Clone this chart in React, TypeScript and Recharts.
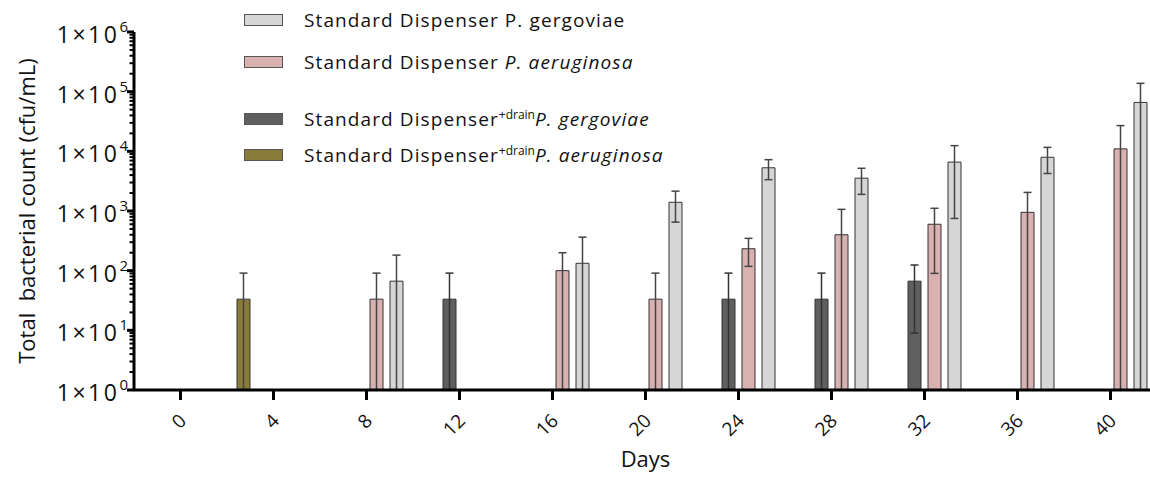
import React from 'react';
import { BarChart, Bar, XAxis, YAxis, ErrorBar, Legend } from 'recharts';

// Days of sampling (x categories)
const days = ['0', '4', '8', '12', '16', '20', '24', '28', '32', '36', '40'];

// Mean total bacterial count (cfu/mL); null = no growth / not shown
const drainAeruginosa = [null, 33.3, null, null, null, null, null, null, null, null, null];
const drainAeruginosaSD = [null, 57.7, null, null, null, null, null, null, null, null, null];

const drainGergoviae = [null, null, null, 33.3, null, null, 33.3, 33.3, 66.7, null, null];
const drainGergoviaeSD = [null, null, null, 57.7, null, null, 57.7, 57.7, 57.7, null, null];

const stdAeruginosa = [null, null, 33.3, null, 100, 33.3, 233, 400, 600, 950, 11000];
const stdAeruginosaSD = [null, null, 57.7, null, 100, 57.7, 115, 666, 510, 1100, 16000];

const stdGergoviae = [null, null, 66.7, null, 133, 1400, 5300, 3550, 6600, 7950, 66000];
const stdGergoviaeSD = [null, null, 115.5, null, 231, 750, 1950, 1650, 5850, 3700, 72000];

// Y axis ticks (log scale)
const yMajorTicks = [1, 10, 100, 1000, 10000, 100000, 1000000];
const yMinorMultipliers = [2, 3, 4, 5, 6, 7, 8, 9];
const yMinorTicks = yMajorTicks.slice(0, -1).flatMap((d) => yMinorMultipliers.map((m) => m * d));

const FONT = '"Open Sans", "DejaVu Sans", sans-serif';

const COLORS = {
  drainAer: '#8b7b3a',
  drainGer: '#5f5f5f',
  stdAer: '#d9b1b1',
  stdGer: '#d6d6d6',
};

// lower bound clamped at the axis floor (1) when mean - SD would be <= 1
const errRange = (v: number | null, sd: number | null) =>
  v == null || sd == null ? null : [v - sd > 1 ? sd : v - 1, sd];

const data = days.map((day, i) => ({
  day,
  drainAer: drainAeruginosa[i],
  drainAerErr: errRange(drainAeruginosa[i], drainAeruginosaSD[i]),
  drainGer: drainGergoviae[i],
  drainGerErr: errRange(drainGergoviae[i], drainGergoviaeSD[i]),
  stdAer: stdAeruginosa[i],
  stdAerErr: errRange(stdAeruginosa[i], stdAeruginosaSD[i]),
  stdGer: stdGergoviae[i],
  stdGerErr: errRange(stdGergoviae[i], stdGergoviaeSD[i]),
}));

const YTick = (props: any) => {
  const { x, y, payload } = props;
  const v = payload.value;
  const e = Math.log10(v);
  const isMajor = Math.abs(e - Math.round(e)) < 1e-9;
  return (
    <g>
      <line
        x1={x - (isMajor ? 7 : 4.5)}
        x2={x}
        y1={y}
        y2={y}
        stroke="#000"
        strokeWidth={isMajor ? 3 : 2}
      />
      {isMajor && (
        <text x={x - 6} y={y} textAnchor="end" fill="#111" fontFamily={FONT}>
          <tspan fontSize={23} dy={11} letterSpacing={2.5}>1×10</tspan>
          <tspan fontSize={15} dy={-11}>{String(Math.round(e))}</tspan>
        </text>
      )}
    </g>
  );
};

const XTick = (props: any) => {
  const { x, y, payload } = props;
  const px = x + 2;
  const py = y + 17;
  return (
    <text
      x={px}
      y={py}
      transform={`rotate(-45, ${px}, ${py})`}
      textAnchor="end"
      dominantBaseline="central"
      fontSize={19}
      fill="#111"
      fontFamily={FONT}
    >
      {payload.value}
    </text>
  );
};

const YTitle = (props: any) => {
  const vb = props.viewBox || { x: 0, y: 32, width: 134, height: 358 };
  const cx = vb.x + 26;
  const cy = vb.y + vb.height / 2;
  return (
    <text
      x={cx}
      y={cy}
      transform={`rotate(-90, ${cx}, ${cy})`}
      textAnchor="middle"
      dominantBaseline="central"
      fontSize={22}
      fill="#111"
      fontFamily={FONT}
      style={{ whiteSpace: 'pre' }}
    >
      Total  bacterial count (cfu/mL)
    </text>
  );
};

const legendRows = [
  { key: 'stdGer', prefix: 'Standard Dispenser P. gergoviae', sup: '', italic: '' },
  { key: 'stdAer', prefix: 'Standard Dispenser ', sup: '', italic: 'P. aeruginosa' },
  { key: 'drainGer', prefix: 'Standard Dispenser', sup: '+drain', italic: 'P. gergoviae' },
  { key: 'drainAer', prefix: 'Standard Dispenser', sup: '+drain', italic: 'P. aeruginosa' },
];
const legendRowTops = [8, 50, 107, 143];

const renderLegend = () => (
  <div style={{ position: 'relative', width: 800, height: 180, fontFamily: FONT }}>
    {legendRows.map((r, i) => (
      <div
        key={r.key}
        style={{
          position: 'absolute',
          left: 244,
          top: legendRowTops[i],
          height: 24,
          display: 'flex',
          alignItems: 'center',
          whiteSpace: 'pre',
        }}
      >
        <span
          style={{
            display: 'inline-block',
            width: 39,
            height: 12,
            boxSizing: 'border-box',
            background: (COLORS as any)[r.key],
            border: '1px solid #555',
          }}
        />
        <span style={{ marginLeft: 21, fontSize: 19, letterSpacing: 1.1, color: '#111', lineHeight: '24px' }}>
          {r.prefix}
          {r.sup && (
            <sup style={{ fontSize: 12, letterSpacing: 0, verticalAlign: 'super', lineHeight: 0 }}>{r.sup}</sup>
          )}
          {r.italic && <i>{r.italic}</i>}
        </span>
      </div>
    ))}
  </div>
);

export default function App() {
  return (
    <div
      style={{
        position: 'fixed',
        left: 0,
        top: 0,
        width: 1150,
        height: 483,
        overflow: 'hidden',
        background: '#fff',
        fontFamily: FONT,
      }}
    >
      <BarChart
        width={1160}
        height={483}
        data={data}
        margin={{ top: 32, right: 3, bottom: 3, left: 0 }}
        barGap={7}
      >
        <Legend
          layout="vertical"
          align="center"
          verticalAlign="middle"
          content={renderLegend}
          wrapperStyle={{ left: 0, top: 0, width: 800, height: 180 }}
        />
        <Bar dataKey="drainAer" fill={COLORS.drainAer} stroke="#333" strokeWidth={1} barSize={13} isAnimationActive={false}>
          <ErrorBar dataKey="drainAerErr" width={4} stroke="#444" strokeWidth={1.5} direction="y" />
        </Bar>
        <Bar dataKey="drainGer" fill={COLORS.drainGer} stroke="#333" strokeWidth={1} barSize={13} isAnimationActive={false}>
          <ErrorBar dataKey="drainGerErr" width={4} stroke="#333" strokeWidth={1.5} direction="y" />
        </Bar>
        <Bar dataKey="stdAer" fill={COLORS.stdAer} stroke="#333" strokeWidth={1} barSize={13} isAnimationActive={false}>
          <ErrorBar dataKey="stdAerErr" width={4} stroke="#444" strokeWidth={1.5} direction="y" />
        </Bar>
        <Bar dataKey="stdGer" fill={COLORS.stdGer} stroke="#333" strokeWidth={1} barSize={13} isAnimationActive={false}>
          <ErrorBar dataKey="stdGerErr" width={4} stroke="#444" strokeWidth={1.5} direction="y" />
        </Bar>
        <XAxis
          dataKey="day"
          interval={0}
          tickSize={10}
          tickMargin={0}
          height={90}
          tickLine={{ stroke: '#000', strokeWidth: 3 }}
          axisLine={{ stroke: '#000', strokeWidth: 3 }}
          tick={<XTick />}
          label={{ value: 'Days', position: 'insideBottom', offset: 13, fontSize: 22, fill: '#111' }}
        />
        <YAxis
          type="number"
          scale="log"
          domain={[1, 1000000]}
          allowDataOverflow
          ticks={[...yMajorTicks, ...yMinorTicks]}
          interval={0}
          tickSize={0}
          tickMargin={0}
          tickLine={false}
          axisLine={{ stroke: '#000', strokeWidth: 3 }}
          tick={<YTick />}
          width={134}
          label={YTitle}
        />
      </BarChart>
    </div>
  );
}
